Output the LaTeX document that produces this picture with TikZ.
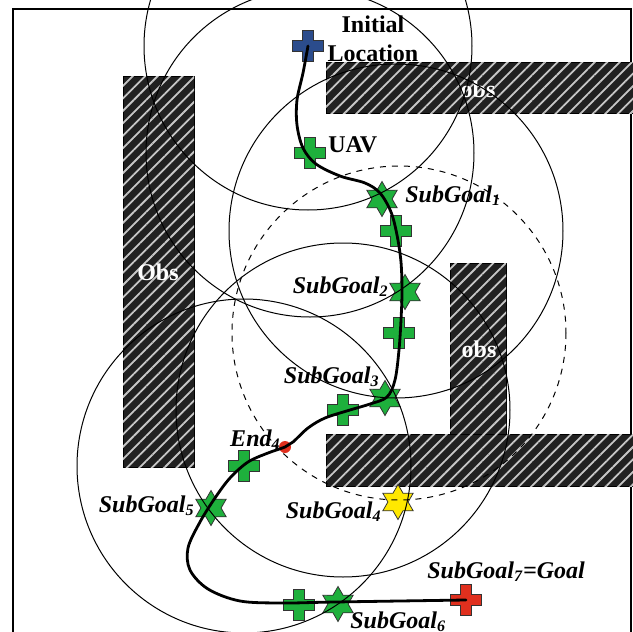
\documentclass[tikz,border=0pt]{standalone}
\usepackage{fontspec}
\setmainfont{Liberation Serif}
\usepackage{tikz}
\usetikzlibrary{shapes.geometric,patterns.meta}
\definecolor{markgreen}{RGB}{30,176,60}
\definecolor{markblue}{RGB}{43,76,140}
\definecolor{markred}{RGB}{224,48,30}
\definecolor{markyellow}{RGB}{255,232,0}

\begin{document}
\begin{tikzpicture}[
	x=0.5pt, y=-0.5pt,
	every node/.style = {inner sep=0pt, font=\fontsize{12}{14.5}\selectfont\bfseries},
	obstacle/.style = {draw=black, line width=0.5pt, fill=black!87,
		postaction={pattern={Lines[angle=45,distance=4.4pt,line width=0.9pt]},
		pattern color=white!78!black}},
	obslabel/.style = {text=white},
	sensing/.style = {line width=0.5pt},
	markline/.style = {draw=black!80, line width=0.4pt},
	goalstar/.style = {markline, star, star points=6, star point ratio=1.73,
		minimum size=17.5pt, fill=markgreen},
	pics/plusmark/.style = {code={
		\path[pic actions] (-5.5,-15.5) -- (5.5,-15.5) -- (5.5,-5.5) -- (15.5,-5.5)
			-- (15.5,5.5) -- (5.5,5.5) -- (5.5,15.5) -- (-5.5,15.5) -- (-5.5,5.5)
			-- (-15.5,5.5) -- (-15.5,-5.5) -- (-5.5,-5.5) -- cycle;}},
	sublabel/.style = {font=\fontsize{12}{14}\selectfont\bfseries\itshape},
	track/.style = {line width=1.4pt, line join=round, line cap=round}
]
\useasboundingbox (0,0) rectangle (633,632);
\clip (0,0) rectangle (633,632);

\draw[line width=0.8pt] (13,9) rectangle (631,660);

% obstacles
\path[obstacle] (123,76) rectangle (194,467);
\path[obstacle] (326,62) rectangle (633,113);
\path[obstacle] (450,263) rectangle (506,435);
\path[obstacle] (326,434) rectangle (633,486);
\node[obslabel] (obs1) at (478,89) {obs};
\node[obslabel] (obs2) at (158,272) {Obs};
\node[obslabel] (obs3) at (479,349) {obs};

% way points
\coordinate (init) at (308,46);
\coordinate (uav) at (310,153);
\coordinate (w1) at (396,231);
\coordinate (w2) at (399,333);
\coordinate (w3) at (343,410);
\coordinate (w4) at (244,466);
\coordinate (w5) at (299,605);
\coordinate (goal) at (466,600);

\pic[markline, fill=markblue] at (init) {plusmark};
\pic[markline, fill=markgreen] at (uav) {plusmark};
\pic[markline, fill=markgreen] at (w1) {plusmark};
\pic[markline, fill=markgreen] at (w2) {plusmark};
\pic[markline, fill=markgreen] at (w3) {plusmark};
\pic[markline, fill=markgreen] at (w4) {plusmark};
\pic[markline, fill=markgreen] at (w5) {plusmark};
\pic[markline, fill=markred] at (goal) {plusmark};

\node[goalstar] (sg1) at (382,199) {};
\node[goalstar] (sg2) at (405,292) {};
\node[goalstar] (sg3) at (385,398) {};
\node[goalstar, fill=markyellow] (sg4) at (398,502) {};
\node[goalstar] (sg5) at (211,508) {};
\node[goalstar] (sg6) at (338,604) {};
\node[circle, fill=markred, minimum size=6pt] (end4) at (285,447) {};

% sensing ranges
\draw[sensing] (init) circle[radius=164];
\draw[sensing] (uav) circle[radius=164];
\draw[sensing] (w1) circle[radius=167];
\draw[sensing, dashed] (w2) circle[radius=167];
\draw[sensing] (w3) circle[radius=167];
\draw[sensing] (w4) circle[radius=167];

\draw[track] plot[smooth, tension=0.55] coordinates {(init) (303,73) (297,100)
	(297,125) (303,148) (316,164) (340,176) (365,183) (380,193) (391,212)
	(397,235) (401,262) (402,292) (401,320) (399,350) (395,380) (387,397)
	(370,404) (350,410) (325,418) (308,428) (293,442) (285,447) (268,453)
	(248,462) (230,478) (215,498) (200,522) (188,548) (190,570) (208,589)
	(240,601) (283,603) (335,602) (goal)};

% labels
\node[align=center] (initlbl) at (373,39) {Initial\\Location};
\node[anchor=base west] (uavlbl) at (328,152) {UAV};
\node[sublabel, anchor=base west] (sg1lbl) at (405,202) {SubGoal\textsubscript{1}};
\node[sublabel, anchor=base east] (sg2lbl) at (389,293) {SubGoal\textsubscript{2}};
\node[sublabel, anchor=base east] (sg3lbl) at (380,383) {SubGoal\textsubscript{3}};
\node[sublabel, anchor=base east] (endlbl) at (281,446) {End\textsubscript{4}};
\node[sublabel, anchor=base east] (sg5lbl) at (195,512) {SubGoal\textsubscript{5}};
\node[sublabel, anchor=base east] (sg4lbl) at (382,518) {SubGoal\textsubscript{4}};
\node[sublabel, anchor=base west] (goallbl) at (427,578) {SubGoal\textsubscript{7}=Goal};
\node[sublabel, anchor=base west] (sg6lbl) at (350,628) {SubGoal\textsubscript{6}};
\end{tikzpicture}
\end{document}
